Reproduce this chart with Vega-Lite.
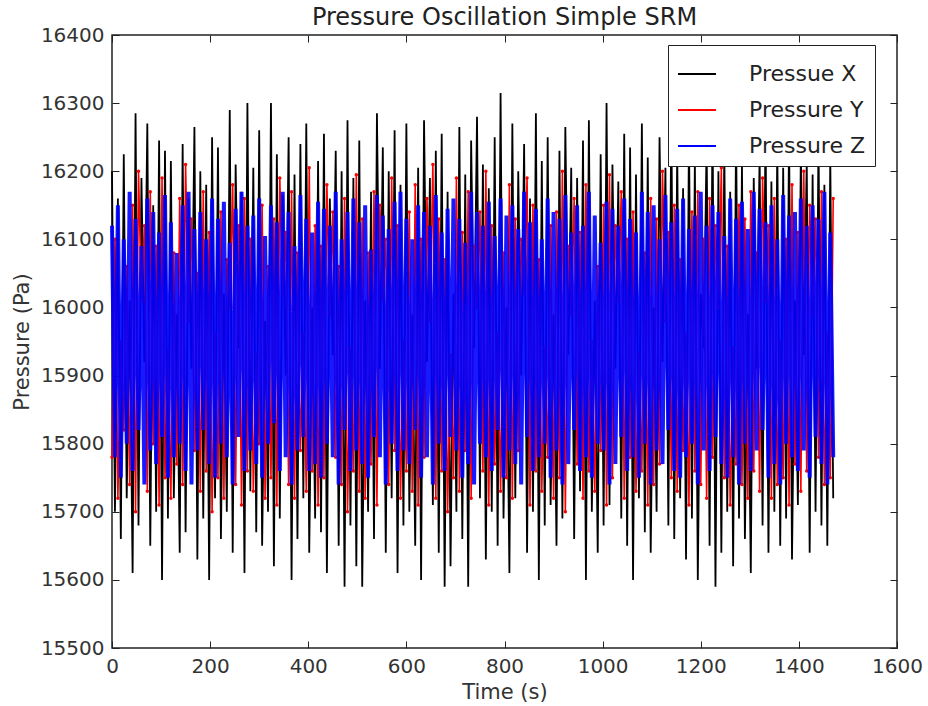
{
  "$schema": "https://vega.github.io/schema/vega-lite/v6.json",
  "width": 785,
  "height": 613,
  "autosize": {"type": "none"},
  "padding": {"left": 112, "top": 35, "right": 31, "bottom": 58},
  "background": "white",
  "title": {"text": "Pressure Oscillation Simple SRM", "fontSize": 24, "font": "DejaVu Sans", "fontWeight": "normal", "color": "#222", "offset": -5},
  "config": {
    "view": {"stroke": "#222", "strokeWidth": 1.5},
    "axis": {"domain": false, "grid": false, "tickColor": "#222", "tickSize": -7, "tickWidth": 1, "labelPadding": 15, "labelFlush": false, "labelFont": "DejaVu Sans", "labelFontSize": 20, "labelColor": "#333", "titleFont": "DejaVu Sans", "titleFontSize": 21, "titleFontWeight": "normal", "titleColor": "#333", "format": "d"}
  },
  "data": {"values": [
{"t":0,"x":16200,"y":15780,"z":16120},{"t":6,"x":15700,"y":16100,"z":15780},
{"t":12,"x":16160,"y":15720,"z":16150},{"t":18,"x":15660,"y":15950,"z":15750},
{"t":24,"x":16225,"y":15820,"z":16100},{"t":30,"x":15720,"y":16060,"z":15800},
{"t":36,"x":16010,"y":15740,"z":16170},{"t":42,"x":15610,"y":16150,"z":15760},
{"t":48,"x":16285,"y":15700,"z":16130},{"t":54,"x":15680,"y":16200,"z":15820},
{"t":60,"x":16190,"y":16010,"z":16090},{"t":66,"x":15920,"y":16120,"z":15740},
{"t":72,"x":16270,"y":15730,"z":16160},{"t":78,"x":15650,"y":16170,"z":15790},
{"t":84,"x":16150,"y":15800,"z":16140},{"t":90,"x":15700,"y":16090,"z":15770},
{"t":96,"x":16245,"y":15710,"z":16110},{"t":102,"x":15600,"y":16190,"z":15810},
{"t":108,"x":16230,"y":15750,"z":16165},{"t":114,"x":15690,"y":15940,"z":15750},
{"t":120,"x":16215,"y":15720,"z":16125},{"t":126,"x":15720,"y":16080,"z":15780},
{"t":132,"x":15990,"y":15770,"z":16080},{"t":138,"x":15640,"y":16160,"z":15800},
{"t":144,"x":16240,"y":15740,"z":16150},{"t":150,"x":15670,"y":16210,"z":15760},
{"t":156,"x":16160,"y":15980,"z":16170},{"t":162,"x":15910,"y":16130,"z":15740},
{"t":168,"x":16265,"y":15790,"z":16115},{"t":174,"x":15630,"y":16050,"z":15790},
{"t":180,"x":16200,"y":15730,"z":16140},{"t":186,"x":15690,"y":16170,"z":15820},
{"t":192,"x":16180,"y":15760,"z":16100},{"t":198,"x":15600,"y":16110,"z":15770},
{"t":204,"x":16250,"y":15700,"z":16160},{"t":210,"x":15720,"y":15960,"z":15750},
{"t":216,"x":16235,"y":15750,"z":16130},{"t":222,"x":15660,"y":16140,"z":15800},
{"t":228,"x":16020,"y":15720,"z":16155},{"t":234,"x":15700,"y":16070,"z":15780},
{"t":240,"x":16290,"y":16000,"z":16095},{"t":246,"x":15640,"y":16180,"z":15740},
{"t":252,"x":16210,"y":15740,"z":16145},{"t":258,"x":15940,"y":16120,"z":15810},
{"t":264,"x":16170,"y":15710,"z":16170},{"t":270,"x":15610,"y":16160,"z":15760},
{"t":276,"x":16300,"y":15760,"z":16120},{"t":282,"x":15730,"y":16100,"z":15790},
{"t":288,"x":16205,"y":15730,"z":16135},{"t":294,"x":15670,"y":15930,"z":15770},
{"t":300,"x":16260,"y":15800,"z":16160},{"t":306,"x":15650,"y":16150,"z":15750},
{"t":312,"x":15980,"y":15720,"z":16105},{"t":318,"x":15700,"y":16060,"z":15800},
{"t":324,"x":16300,"y":15750,"z":16150},{"t":330,"x":15620,"y":16130,"z":15830},
{"t":336,"x":16225,"y":15710,"z":16125},{"t":342,"x":15690,"y":16190,"z":15760},
{"t":348,"x":16165,"y":16020,"z":16170},{"t":354,"x":15900,"y":16110,"z":15780},
{"t":360,"x":16250,"y":15740,"z":16140},{"t":366,"x":15600,"y":16170,"z":15740},
{"t":372,"x":16195,"y":15720,"z":16090},{"t":378,"x":15660,"y":16080,"z":15790},
{"t":384,"x":16240,"y":15790,"z":16165},{"t":390,"x":15720,"y":15960,"z":15810},
{"t":396,"x":16270,"y":15730,"z":16130},{"t":402,"x":15640,"y":16205,"z":15760},
{"t":408,"x":16000,"y":15760,"z":16110},{"t":414,"x":15690,"y":16120,"z":15770},
{"t":420,"x":16215,"y":15710,"z":16155},{"t":426,"x":15670,"y":16090,"z":15750},
{"t":432,"x":16255,"y":15750,"z":16145},{"t":438,"x":15610,"y":16180,"z":15800},
{"t":444,"x":16160,"y":15990,"z":16120},{"t":450,"x":15930,"y":16140,"z":15780},
{"t":456,"x":16230,"y":15780,"z":16170},{"t":462,"x":15650,"y":16060,"z":15740},
{"t":468,"x":16200,"y":15740,"z":16100},{"t":474,"x":15590,"y":16160,"z":15820},
{"t":480,"x":16275,"y":15700,"z":16140},{"t":486,"x":15680,"y":15940,"z":15760},
{"t":492,"x":16190,"y":15760,"z":16160},{"t":498,"x":15620,"y":16195,"z":15790},
{"t":504,"x":16245,"y":15730,"z":16125},{"t":510,"x":15590,"y":16130,"z":15770},
{"t":516,"x":16010,"y":15720,"z":16150},{"t":522,"x":15700,"y":16080,"z":15750},
{"t":528,"x":16170,"y":15770,"z":16085},{"t":534,"x":15660,"y":16170,"z":15810},
{"t":540,"x":16285,"y":15710,"z":16165},{"t":546,"x":15910,"y":16150,"z":15780},
{"t":552,"x":16235,"y":16010,"z":16135},{"t":558,"x":15640,"y":16100,"z":15740},
{"t":564,"x":16200,"y":15740,"z":16115},{"t":570,"x":15720,"y":16190,"z":15800},
{"t":576,"x":16260,"y":15790,"z":16155},{"t":582,"x":15610,"y":16120,"z":15760},
{"t":588,"x":16180,"y":15720,"z":16170},{"t":594,"x":15680,"y":15950,"z":15790},
{"t":600,"x":16270,"y":15760,"z":16130},{"t":606,"x":15700,"y":16140,"z":15770},
{"t":612,"x":15990,"y":15730,"z":16100},{"t":618,"x":15650,"y":16180,"z":15820},
{"t":624,"x":16205,"y":15710,"z":16150},{"t":630,"x":15600,"y":16100,"z":15750},
{"t":636,"x":16275,"y":15780,"z":16140},{"t":642,"x":15920,"y":16160,"z":15780},
{"t":648,"x":16190,"y":15980,"z":16120},{"t":654,"x":15710,"y":16210,"z":15740},
{"t":660,"x":16230,"y":15720,"z":16165},{"t":666,"x":15640,"y":16130,"z":15800},
{"t":672,"x":16255,"y":15760,"z":16110},{"t":678,"x":15590,"y":16070,"z":15760},
{"t":684,"x":16170,"y":15700,"z":16145},{"t":690,"x":15620,"y":15930,"z":15810},
{"t":696,"x":16020,"y":15750,"z":16160},{"t":702,"x":15700,"y":16190,"z":15790},
{"t":708,"x":16265,"y":15730,"z":16130},{"t":714,"x":15660,"y":16110,"z":15750},
{"t":720,"x":16195,"y":15790,"z":16095},{"t":726,"x":15590,"y":16170,"z":15770},
{"t":732,"x":16245,"y":15720,"z":16170},{"t":738,"x":15940,"y":16090,"z":15740},
{"t":744,"x":16280,"y":16000,"z":16140},{"t":750,"x":15720,"y":16140,"z":15800},
{"t":756,"x":16210,"y":15760,"z":16120},{"t":762,"x":15630,"y":16200,"z":15780},
{"t":768,"x":16175,"y":15710,"z":16155},{"t":774,"x":15700,"y":16120,"z":15760},
{"t":780,"x":16250,"y":15770,"z":16105},{"t":786,"x":15650,"y":15960,"z":15820},
{"t":792,"x":16315,"y":15730,"z":16160},{"t":798,"x":15690,"y":16080,"z":15750},
{"t":804,"x":16000,"y":15750,"z":16135},{"t":810,"x":15610,"y":16180,"z":15790},
{"t":816,"x":16270,"y":15720,"z":16150},{"t":822,"x":15720,"y":16130,"z":15770},
{"t":828,"x":16200,"y":15790,"z":16115},{"t":834,"x":15900,"y":16100,"z":15740},
{"t":840,"x":16240,"y":16020,"z":16170},{"t":846,"x":15640,"y":16190,"z":15810},
{"t":852,"x":16160,"y":15710,"z":16125},{"t":858,"x":15700,"y":16150,"z":15760},
{"t":864,"x":16285,"y":15760,"z":16145},{"t":870,"x":15600,"y":16070,"z":15780},
{"t":876,"x":16215,"y":15730,"z":16100},{"t":882,"x":15680,"y":15940,"z":15800},
{"t":888,"x":16250,"y":15780,"z":16160},{"t":894,"x":15710,"y":16120,"z":15750},
{"t":900,"x":15990,"y":15720,"z":16140},{"t":906,"x":15650,"y":16140,"z":15790},
{"t":912,"x":16230,"y":15750,"z":16130},{"t":918,"x":15690,"y":16200,"z":15740},
{"t":924,"x":16265,"y":15700,"z":16165},{"t":930,"x":15930,"y":16090,"z":15770},
{"t":936,"x":16205,"y":15990,"z":16110},{"t":942,"x":15660,"y":16160,"z":15820},
{"t":948,"x":16190,"y":15770,"z":16150},{"t":954,"x":15730,"y":16110,"z":15760},
{"t":960,"x":16245,"y":15720,"z":16120},{"t":966,"x":15600,"y":16180,"z":15780},
{"t":972,"x":16275,"y":15760,"z":16170},{"t":978,"x":15700,"y":15950,"z":15750},
{"t":984,"x":16010,"y":15730,"z":16135},{"t":990,"x":15640,"y":16060,"z":15800},
{"t":996,"x":16225,"y":15790,"z":16095},{"t":1002,"x":15680,"y":16150,"z":15790},
{"t":1008,"x":16300,"y":15710,"z":16155},{"t":1014,"x":15710,"y":16195,"z":15740},
{"t":1020,"x":16210,"y":15750,"z":16145},{"t":1026,"x":15910,"y":16120,"z":15770},
{"t":1032,"x":16185,"y":16010,"z":16120},{"t":1038,"x":15690,"y":16170,"z":15810},
{"t":1044,"x":16255,"y":15720,"z":16160},{"t":1050,"x":15650,"y":16100,"z":15760},
{"t":1056,"x":16235,"y":15780,"z":16130},{"t":1062,"x":15600,"y":16140,"z":15780},
{"t":1068,"x":16195,"y":15730,"z":16110},{"t":1074,"x":15720,"y":15930,"z":15750},
{"t":1080,"x":16270,"y":15760,"z":16170},{"t":1086,"x":15670,"y":16080,"z":15800},
{"t":1092,"x":16220,"y":15710,"z":16140},{"t":1098,"x":15640,"y":16160,"z":15740},
{"t":1104,"x":16000,"y":15740,"z":16150},{"t":1110,"x":15700,"y":16130,"z":15790},
{"t":1116,"x":16250,"y":15770,"z":16100},{"t":1122,"x":15920,"y":16200,"z":15770},
{"t":1128,"x":16205,"y":15980,"z":16165},{"t":1134,"x":15680,"y":16110,"z":15820},
{"t":1140,"x":16290,"y":15750,"z":16125},{"t":1146,"x":15660,"y":16150,"z":15760},
{"t":1152,"x":16230,"y":15730,"z":16145},{"t":1158,"x":15720,"y":16070,"z":15750},
{"t":1164,"x":16175,"y":15790,"z":16160},{"t":1170,"x":15630,"y":15960,"z":15780},
{"t":1176,"x":16260,"y":15710,"z":16115},{"t":1182,"x":15690,"y":16140,"z":15800},
{"t":1188,"x":16215,"y":15760,"z":16135},{"t":1194,"x":15600,"y":16170,"z":15740},
{"t":1200,"x":16020,"y":15740,"z":16170},{"t":1206,"x":15940,"y":16100,"z":15790},
{"t":1212,"x":16245,"y":15720,"z":16120},{"t":1218,"x":15650,"y":16160,"z":15760},
{"t":1224,"x":16280,"y":15780,"z":16150},{"t":1230,"x":15590,"y":16120,"z":15810},
{"t":1236,"x":16200,"y":16000,"z":16140},{"t":1242,"x":15640,"y":16205,"z":15770},
{"t":1248,"x":16235,"y":15750,"z":16105},{"t":1254,"x":15700,"y":16090,"z":15750},
{"t":1260,"x":16170,"y":15710,"z":16160},{"t":1266,"x":15620,"y":15940,"z":15780},
{"t":1272,"x":16265,"y":15770,"z":16130},{"t":1278,"x":15690,"y":16150,"z":15740},
{"t":1284,"x":16210,"y":15740,"z":16155},{"t":1290,"x":15660,"y":16130,"z":15800},
{"t":1296,"x":15990,"y":15720,"z":16115},{"t":1302,"x":15610,"y":16170,"z":15760},
{"t":1308,"x":16190,"y":15760,"z":16170},{"t":1314,"x":15910,"y":16080,"z":15790},
{"t":1320,"x":16225,"y":15730,"z":16145},{"t":1326,"x":15680,"y":16190,"z":15820},
{"t":1332,"x":16275,"y":16010,"z":16125},{"t":1338,"x":15640,"y":16120,"z":15750},
{"t":1344,"x":16185,"y":15720,"z":16150},{"t":1350,"x":15700,"y":16160,"z":15770},
{"t":1356,"x":16240,"y":15740,"z":16100},{"t":1362,"x":15650,"y":15950,"z":15740},
{"t":1368,"x":16205,"y":15750,"z":16165},{"t":1374,"x":15690,"y":16100,"z":15800},
{"t":1380,"x":16260,"y":15710,"z":16135},{"t":1386,"x":15630,"y":16180,"z":15780},
{"t":1392,"x":16010,"y":15770,"z":16140},{"t":1398,"x":15710,"y":16110,"z":15760},
{"t":1404,"x":16230,"y":15730,"z":16160},{"t":1410,"x":15930,"y":16200,"z":15790},
{"t":1416,"x":16215,"y":15760,"z":16120},{"t":1422,"x":15640,"y":16150,"z":15750},
{"t":1428,"x":16195,"y":15990,"z":16150},{"t":1434,"x":15700,"y":16130,"z":15810},
{"t":1440,"x":16250,"y":15780,"z":16130},{"t":1446,"x":15680,"y":16170,"z":15770},
{"t":1452,"x":16180,"y":15740,"z":16170},{"t":1458,"x":15650,"y":15960,"z":15740},
{"t":1464,"x":16220,"y":15750,"z":16110},{"t":1470,"x":15720,"y":16160,"z":15780}
  ]},
  "layer": [
    {
      "mark": {"type": "line", "strokeWidth": 1.8},
      "encoding": {
        "x": {"field": "t", "type": "quantitative", "scale": {"domain": [0, 1600], "nice": false, "zero": false}, "axis": {"orient": "bottom", "values": [0,200,400,600,800,1000,1200,1400,1600], "title": "Time (s)", "titlePadding": 5}},
        "y": {"field": "x", "type": "quantitative", "scale": {"domain": [15500, 16400], "nice": false, "zero": false}, "axis": {"orient": "left", "values": [15500,15600,15700,15800,15900,16000,16100,16200,16300,16400], "title": "Pressure (Pa)", "titlePadding": 8}},
        "color": {"datum": "Pressue X", "type": "nominal", "scale": {"domain": ["Pressue X", "Pressure Y", "Pressure Z"], "range": ["#000000", "#ff0000", "#0000ff"]},
          "legend": {"title": null, "orient": "none", "legendX": 556, "legendY": 10, "symbolType": "stroke", "symbolSize": 1444, "symbolStrokeWidth": 2, "labelFontSize": 22, "labelFont": "DejaVu Sans", "labelColor": "#222", "labelOffset": 32, "padding": 9, "rowPadding": 5, "strokeColor": "#222", "fillColor": "white", "cornerRadius": 0}}
      }
    },
    {
      "mark": {"type": "line", "strokeWidth": 1.6, "point": {"filled": true, "size": 12, "color": "#ff0000"}},
      "encoding": {
        "x": {"field": "t", "type": "quantitative", "axis": null},
        "y": {"field": "y", "type": "quantitative", "axis": null},
        "color": {"datum": "Pressure Y", "type": "nominal"}
      }
    },
    {
      "mark": {"type": "line", "strokeWidth": 4, "opacity": 0.9},
      "encoding": {
        "x": {"field": "t", "type": "quantitative", "axis": {"orient": "top", "values": [0,200,400,600,800,1000,1200,1400,1600], "labels": false, "title": null, "labelPadding": 0, "maxExtent": 0, "minExtent": 0}},
        "y": {"field": "z", "type": "quantitative", "axis": {"orient": "right", "values": [15500,15600,15700,15800,15900,16000,16100,16200,16300,16400], "labels": false, "title": null, "labelPadding": 0, "maxExtent": 0, "minExtent": 0}},
        "color": {"datum": "Pressure Z", "type": "nominal"}
      }
    }
  ],
  "resolve": {"axis": {"x": "independent", "y": "independent"}}
}
